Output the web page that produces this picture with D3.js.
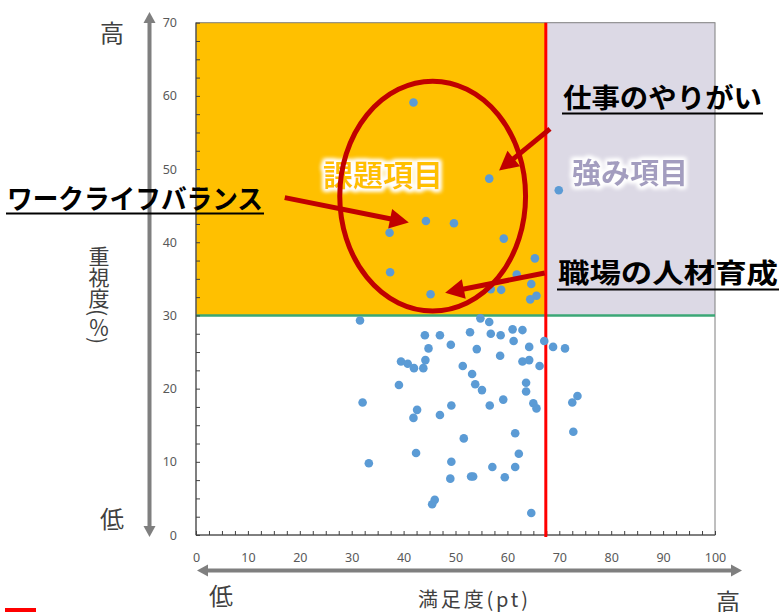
<!DOCTYPE html>
<html lang="ja">
<head>
<meta charset="UTF-8">
<title>満足度・重視度マップ</title>
<script src="https://d3js.org/d3.v7.min.js"></script>
<style>
  body { margin: 0; background: #fff; }
  svg text { font-family: "Noto Sans CJK JP", "Noto Sans", sans-serif; }
  .tick text { font-family: "Noto Sans", sans-serif; font-size: 12.5px; fill: #595959; }
  .axis path, .axis line { stroke: #404040; }
</style>
</head>
<body>
<svg id="chart" width="781" height="612"></svg>
<script>
// satisfaction (pt) and importance (%) for each item
const satisfaction = [41.9,56.5,69.9,44.3,49.7,37.3,59.3,65.3,37.4,61.8,
  64.6,56.8,58.8,45.2,65.6,64.4,31.6,54.8,56.5,61.0,
  62.9,44.1,47.0,52.8,56.8,58.7,61.2,67.1,68.8,71.1,
  44.8,49.1,54.1,64.2,58.6,39.5,40.8,44.2,42.0,43.8,
  51.4,62.9,64.2,66.2,53.2,39.1,53.8,63.6,55.1,63.6,
  32.1,59.2,72.5,73.5,65.0,65.6,42.6,49.2,56.6,41.9,
  47.0,61.5,72.7,51.6,42.4,62.2,33.3,49.2,57.1,61.5,
  49.0,53.0,53.4,59.5,45.5,46.0,64.6];
const importance = [59.1,48.7,47.1,42.9,42.6,41.3,40.5,37.8,35.9,35.6,
  34.3,33.6,33.5,32.9,32.7,32.2,29.3,29.6,29.1,28.1,
  28.0,27.3,27.3,27.7,27.5,27.3,26.5,26.5,25.7,25.5,
  25.5,26.0,25.4,25.7,24.5,23.7,23.4,23.9,22.8,22.8,
  23.1,23.7,23.9,23.1,22.0,20.5,20.6,20.8,19.8,19.6,
  18.1,18.5,18.1,19.0,18.0,17.3,17.1,17.7,17.7,16.0,
  16.4,13.9,14.1,13.2,11.2,11.1,9.8,10.0,9.3,9.3,
  7.7,8.0,8.0,7.9,4.2,4.8,3.0];

const xTicks = d3.range(0, 100.01, 2.5);
const yTicks = d3.range(0, 70.01, 2.5);
const satisfactionLine = 67.4;
const importanceLine = 30;

const svg = d3.select("#chart");
const x = d3.scaleLinear().domain([0, 100]).range([196, 715]);
const y = d3.scaleLinear().domain([0, 70]).range([535, 22.7]);

// glow for the quadrant labels
const defs = svg.append("defs");
const glow = defs.append("filter").attr("id", "glow")
  .attr("x", "-20%").attr("y", "-30%").attr("width", "140%").attr("height", "160%");
glow.append("feMorphology").attr("in", "SourceAlpha").attr("operator", "dilate").attr("radius", 1.5).attr("result", "d");
glow.append("feGaussianBlur").attr("in", "d").attr("stdDeviation", 2).attr("result", "b");
glow.append("feFlood").attr("flood-color", "#fff");
glow.append("feComposite").attr("in2", "b").attr("operator", "in").attr("result", "g");
const merge = glow.append("feMerge");
merge.append("feMergeNode").attr("in", "g");
merge.append("feMergeNode").attr("in", "g");
merge.append("feMergeNode").attr("in", "SourceGraphic");

// quadrant backgrounds
svg.append("rect")
  .attr("x", x(0)).attr("y", y(70))
  .attr("width", x(satisfactionLine) - x(0)).attr("height", y(importanceLine) - y(70))
  .attr("fill", "#FFC000");
svg.append("rect")
  .attr("x", x(satisfactionLine)).attr("y", y(70))
  .attr("width", x(100) - x(satisfactionLine)).attr("height", y(importanceLine) - y(70))
  .attr("fill", "#DCD9E5");

// plot border
svg.append("rect")
  .attr("x", x(0)).attr("y", y(70))
  .attr("width", x(100) - x(0)).attr("height", y(0) - y(70))
  .attr("fill", "none").attr("stroke", "#7F7F7F").attr("stroke-width", 1);

svg.append("line")
  .attr("x1", x(0)).attr("x2", x(100))
  .attr("y1", y(importanceLine)).attr("y2", y(importanceLine))
  .attr("stroke", "#3BA776").attr("stroke-width", 2.5);

// axes, ticks inside
svg.append("g").attr("class", "axis")
  .attr("transform", `translate(${x(0)},0)`)
  .call(d3.axisLeft(y).tickValues(yTicks).tickSize(-4).tickPadding(19)
    .tickFormat(d => d % 10 === 0 ? d : ""))
  .call(g => g.select(".domain").attr("d", `M0,${y(0)}V${y(70)}`));

svg.append("g").attr("class", "axis")
  .attr("transform", `translate(0,${y(0)})`)
  .call(d3.axisBottom(x).tickValues(xTicks).tickSize(-4).tickPadding(18)
    .tickFormat(d => d % 10 === 0 ? d : ""))
  .call(g => g.select(".domain").attr("d", `M${x(0)},0H${x(100)}`));

svg.append("line")
  .attr("x1", x(satisfactionLine)).attr("x2", x(satisfactionLine))
  .attr("y1", y(70)).attr("y2", y(0) + 2)
  .attr("stroke", "#FF0000").attr("stroke-width", 3);

// points
svg.append("g").selectAll("circle")
  .data(satisfaction.map((s, i) => [s, importance[i]]))
  .join("circle")
  .attr("cx", d => x(d[0]))
  .attr("cy", d => y(d[1]))
  .attr("r", 4.3)
  .attr("fill", "#5B9BD5");

// arrow helper: line with triangular head at (x2,y2)
function arrow(g, x1, y1, x2, y2, color, w, len, hw, both) {
  const a = Math.atan2(y2 - y1, x2 - x1);
  const c = Math.cos(a), s = Math.sin(a);
  const head = (tx, ty, dc, ds) => {
    const bx = tx - dc * len, by = ty - ds * len;
    g.append("path")
      .attr("d", `M${tx},${ty}L${bx - ds * hw / 2},${by + dc * hw / 2}L${bx + ds * hw / 2},${by - dc * hw / 2}Z`)
      .attr("fill", color);
  };
  const sx = both ? x1 + c * (len - 1) : x1, sy = both ? y1 + s * (len - 1) : y1;
  g.append("line")
    .attr("x1", sx).attr("y1", sy)
    .attr("x2", x2 - c * (len - 1)).attr("y2", y2 - s * (len - 1))
    .attr("stroke", color).attr("stroke-width", w);
  head(x2, y2, c, s);
  if (both) head(x1, y1, -c, -s);
}

// gray direction arrows outside the plot
const guides = svg.append("g");
arrow(guides, 149.5, 537, 149.5, 12, "#7F7F7F", 4, 11, 12, true);
arrow(guides, 197, 570.5, 742, 570.5, "#7F7F7F", 4, 11, 12, true);

const dark = "#404040";
svg.append("text").attr("x", 112).attr("y", 42).attr("text-anchor", "middle")
  .attr("font-size", 24).attr("fill", dark).text("高");
svg.append("text").attr("x", 112).attr("y", 528).attr("text-anchor", "middle")
  .attr("font-size", 24).attr("fill", dark).text("低");
svg.append("text").attr("x", 221).attr("y", 605).attr("text-anchor", "middle")
  .attr("font-size", 24).attr("fill", dark).text("低");
svg.append("text").attr("x", 728).attr("y", 611).attr("text-anchor", "middle")
  .attr("font-size", 24).attr("fill", dark).text("高");
svg.append("text").attr("x", 418).attr("y", 607)
  .attr("font-size", 20).attr("fill", dark)
  .attr("textLength", 110).attr("lengthAdjust", "spacing").text("満足度(pt)");
svg.append("text").attr("x", 99).attr("y", 246)
  .style("writing-mode", "vertical-rl")
  .attr("font-size", 21).attr("fill", dark).text("重視度(％)");

// quadrant labels
svg.append("text").attr("x", 383).attr("y", 186).attr("text-anchor", "middle")
  .attr("font-size", 30).attr("font-weight", "bold").attr("fill", "#FFC000")
  .attr("filter", "url(#glow)").text("課題項目");
svg.append("text").attr("x", 630).attr("y", 184).attr("text-anchor", "middle")
  .attr("font-size", 29).attr("font-weight", "bold").attr("fill", "#A39DBF")
  .attr("filter", "url(#glow)").text("強み項目");

// highlight ellipse and callout arrows
const red = "#C00000";
svg.append("ellipse")
  .attr("cx", x(45.6)).attr("cy", y(46.3))
  .attr("rx", x(17.9) - x(0)).attr("ry", y(0) - y(15.7))
  .attr("fill", "none").attr("stroke", red).attr("stroke-width", 5);

const callouts = svg.append("g");
arrow(callouts, x(68.2), y(55.5), x(58.4), y(49.8), red, 5, 19, 20);
arrow(callouts, x(17.1), y(46.1), x(41.0), y(42.7), red, 5, 19, 20);
arrow(callouts, x(67.2), y(35.8), x(48.0), y(33.1), red, 5, 19, 20);

// callout labels with underline
const labels = [
  { t: "仕事のやりがい", x: 563, y: 108, w: 199, u: 113.5 },
  { t: "ワークライフバランス", x: 7, y: 209, w: 256, u: 213.5 },
  { t: "職場の人材育成", x: 558, y: 283, w: 220, u: 289.5 }
];
labels.forEach(l => {
  svg.append("text").attr("x", l.x).attr("y", l.y)
    .attr("font-size", 27).attr("font-weight", "bold").attr("fill", "#000")
    .attr("textLength", l.w).attr("lengthAdjust", "spacingAndGlyphs")
    .text(l.t);
  svg.append("line").attr("x1", l.x - 1).attr("x2", l.x + l.w + 1)
    .attr("y1", l.u).attr("y2", l.u)
    .attr("stroke", "#000").attr("stroke-width", 2);
});

// small red mark at bottom-left corner
svg.append("rect").attr("x", 5).attr("y", 608).attr("width", 31).attr("height", 4).attr("fill", "#FF0000");
</script>
</body>
</html>
